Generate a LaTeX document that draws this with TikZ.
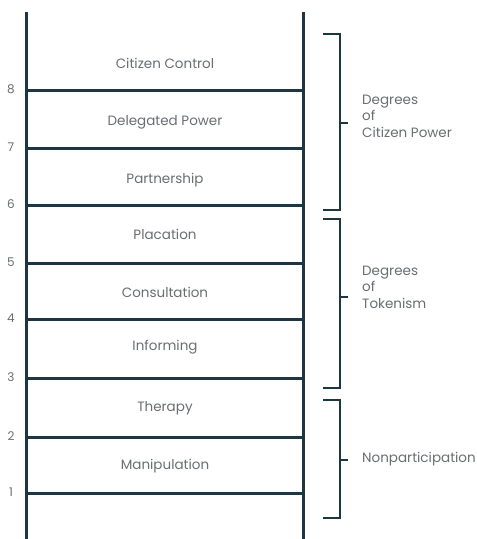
\documentclass[tikz,border=0pt]{standalone}
\usepackage{fontspec}
\setmainfont{Poppins}
\definecolor{ink}{HTML}{1E3644}
\definecolor{txt}{HTML}{6A6E72}
\begin{document}
\begin{tikzpicture}[x=1pt,y=-1pt,
  rail/.style={draw=ink,line width=3pt},
  rung/.style={draw=ink,line width=3pt},
  brace/.style={draw=ink,line width=2.6pt},
  lbl/.style={text=txt,font=\fontsize{13.5}{16}\selectfont,inner sep=0pt},
  num/.style={text=txt,font=\fontsize{12}{14}\selectfont,inner sep=0pt},
  grp/.style={text=txt,font=\fontsize{13.5}{16.5}\selectfont,inner sep=0pt,align=left,anchor=west}]
\useasboundingbox (0,0) rectangle (477,539);
\fill[white] (0,0) rectangle (477,539);
% rails
\draw[rail] (26,12) -- (26,539);
\draw[rail] (303,12) -- (303,539);
% rungs
\foreach \y/\n in {90/8,148/7,205/6,263/5,319/4,378/3,437/2,493/1}{
  \draw[rung] (26,\y) -- (303,\y);
  \node[num] (n\n) at (11,\y-1) {\n};
}
% labels
\node[lbl] (l8) at (165,63) {Citizen Control};
\node[lbl] (l7) at (165,122) {Delegated Power};
\node[lbl] (l6) at (165,180) {Partnership};
\node[lbl] (l5) at (165,234) {Placation};
\node[lbl] (l4) at (165,292) {Consultation};
\node[lbl] (l3) at (165,347) {Informing};
\node[lbl] (l2) at (165,408) {Therapy};
\node[lbl] (l1) at (165,466) {Manipulation};
% brackets
\draw[brace] (323,34) -- (340,34) -- (340,210) -- (323,210);
\draw[brace] (340,123) -- (348,123);
\draw[brace] (323,219) -- (340,219) -- (340,388) -- (323,388);
\draw[brace] (340,297) -- (348,297);
\draw[brace] (323,400) -- (340,400) -- (340,518) -- (323,518);
\draw[brace] (340,460) -- (348,460);
\node[grp] (g1) at (362,116) {Degrees\\of\\Citizen Power};
\node[grp] (g2) at (362,287) {Degrees\\of\\Tokenism};
\node[grp] (g3) at (362,459) {Nonparticipation};
\end{tikzpicture}
\end{document}
